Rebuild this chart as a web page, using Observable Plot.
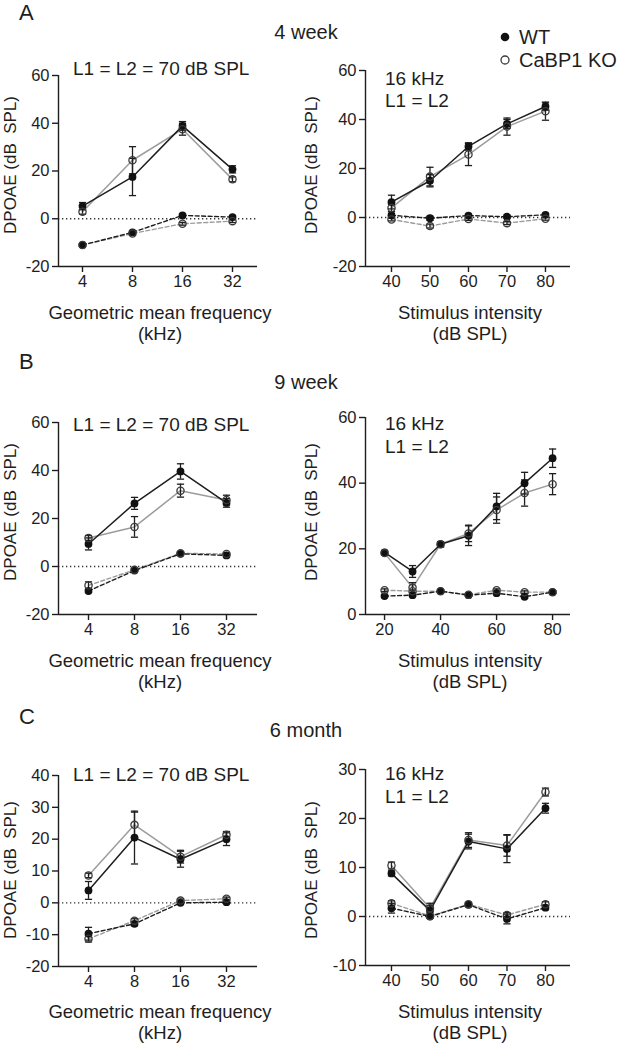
<!DOCTYPE html>
<html>
<head>
<meta charset="utf-8">
<script src="https://cdn.jsdelivr.net/npm/d3@7"></script>
<script src="https://cdn.jsdelivr.net/npm/@observablehq/plot@0.6"></script>
<style>
  html, body { margin: 0; padding: 0; background: #fff; }
  #root { position: relative; width: 624px; height: 1050px; overflow: hidden; font-family: "Liberation Sans", Arial, sans-serif; color: #1e1e1e; }
  .lbl { position: absolute; white-space: pre; line-height: 1; }
  svg { position: absolute; overflow: visible; }
</style>
</head>
<body>
<div id="root"></div>
<script>
// ---------- data ----------
const freqKHz = [4, 8, 16, 32];
const levels4wk = [40, 50, 60, 70, 80];
const levels9wk = [20, 30, 40, 50, 60, 70, 80];
const levels6mo = [40, 50, 60, 70, 80];

// 4 week – frequency
const w4fWT = [5.3, 17.5, 38.9, 20.7];
const w4fWTsem = [1.5, 7.8, 1.8, 1.5];
const w4fKO = [2.9, 24.5, 37.5, 16.5];
const w4fKOsem = [1.0, 5.7, 2.5, 1.0];
const w4fNfWT = [-11.0, -5.7, 1.4, 0.7];
const w4fNfWTsem = [0.6, 0.5, 0.6, 0.5];
const w4fNfKO = [-11.0, -6.2, -2.1, -1.0];
const w4fNfKOsem = [0.5, 0.5, 0.6, 0.6];

// 4 week – intensity
const w4iWT = [6.3, 15.0, 29.0, 38.2, 45.3];
const w4iWTsem = [2.8, 2.5, 1.5, 1.8, 1.5];
const w4iKO = [3.9, 16.7, 25.7, 37.1, 43.4];
const w4iKOsem = [1.5, 3.8, 4.5, 3.5, 3.7];
const w4iNfWT = [0.9, -0.3, 0.8, 0.3, 1.1];
const w4iNfWTsem = [0.8, 0.8, 0.6, 0.6, 0.6];
const w4iNfKO = [-0.8, -3.5, -0.6, -2.3, -0.5];
const w4iNfKOsem = [0.6, 0.8, 0.6, 0.6, 0.6];

// 9 week – frequency
const w9fWT = [9.4, 26.3, 39.6, 26.5];
const w9fWTsem = [2.5, 2.5, 3.2, 1.8];
const w9fKO = [11.9, 16.5, 31.6, 27.7];
const w9fKOsem = [1.0, 4.3, 2.7, 2.0];
const w9fNfWT = [-10.2, -1.7, 5.3, 4.6];
const w9fNfWTsem = [0.6, 0.5, 0.5, 0.6];
const w9fNfKO = [-7.9, -1.4, 5.5, 5.2];
const w9fNfKOsem = [1.5, 0.5, 0.5, 0.6];

// 9 week – intensity
const w9iWT = [18.9, 13.1, 21.4, 24.0, 32.9, 40.0, 47.6];
const w9iWTsem = [0.6, 1.8, 0.8, 3.0, 4.0, 3.3, 2.8];
const w9iKO = [18.7, 8.2, 21.4, 24.7, 31.8, 37.0, 39.7];
const w9iKOsem = [0.6, 1.5, 0.8, 2.5, 4.0, 4.0, 3.2];
const w9iNfWT = [5.6, 5.9, 7.1, 5.9, 6.5, 5.4, 6.8];
const w9iNfWTsem = [0.4, 0.4, 0.4, 0.4, 0.4, 0.4, 0.4];
const w9iNfKO = [7.4, 7.1, 7.1, 6.0, 7.4, 6.8, 6.8];
const w9iNfKOsem = [0.4, 0.4, 0.4, 0.4, 0.4, 0.4, 0.4];

// 6 month – frequency
const m6fWT = [3.9, 20.5, 13.7, 20.0];
const m6fWTsem = [2.8, 8.3, 2.5, 2.0];
const m6fKO = [8.6, 24.5, 14.5, 21.4];
const m6fKOsem = [0.7, 4.0, 2.0, 1.0];
const m6fNfWT = [-9.7, -6.6, 0.0, 0.2];
const m6fNfWTsem = [2.0, 0.6, 0.4, 0.4];
const m6fNfKO = [-11.3, -5.6, 0.7, 1.3];
const m6fNfKOsem = [1.0, 0.6, 0.5, 0.5];

// 6 month – intensity
const m6iWT = [8.8, 1.2, 15.3, 13.8, 22.1];
const m6iWTsem = [0.5, 1.0, 1.5, 2.8, 1.0];
const m6iKO = [10.4, 1.7, 15.6, 14.5, 25.4];
const m6iKOsem = [0.7, 1.0, 1.5, 2.2, 0.8];
const m6iNfWT = [1.7, 0.0, 2.4, -0.5, 1.8];
const m6iNfWTsem = [1.0, 0.3, 0.4, 1.0, 0.4];
const m6iNfKO = [2.7, 0.1, 2.5, 0.3, 2.5];
const m6iNfKOsem = [0.5, 0.3, 0.4, 0.5, 0.5];

// tick labels
const freqTicks = [4, 8, 16, 32];
const levelTicks10 = [40, 50, 60, 70, 80];
const levelTicks20 = [20, 40, 60, 80];
const yTicks60 = [-20, 0, 20, 40, 60];
const yTicks60pos = [0, 20, 40, 60];
const yTicks40 = [-20, -10, 0, 10, 20, 30, 40];
const yTicks30 = [-10, 0, 10, 20, 30];

// texts
const panelLetters = ["A", "B", "C"];
const ageTitles = ["4 week", "9 week", "6 month"];
const freqNote = "L1 = L2 = 70 dB SPL";
const levelNote = ["16 kHz", "L1 = L2"];
const yTitle = "DPOAE (dB  SPL)";
const xTitleFreq = ["Geometric mean frequency", "(kHz)"];
const xTitleLevel = ["Stimulus intensity", "(dB SPL)"];
const legendNames = ["WT", "CaBP1 KO"];

// ---------- drawing ----------
const root = document.getElementById("root");
const INK = "#1e1e1e";
const GRAY = "#9c9c9c";
const capSymbol = { draw(ctx, size) { const w = Math.sqrt(size / Math.PI); ctx.moveTo(-w, 0); ctx.lineTo(w, 0); } };

function series(xs, ys, es, group, kind) {
  return xs.map((x, i) => ({ x, y: ys[i], e: es[i], group, kind }));
}

function panel(cfg) {
  const wt = series(cfg.x, cfg.wt, cfg.wtE, "WT", "resp");
  const ko = series(cfg.x, cfg.ko, cfg.koE, "KO", "resp");
  const nwt = series(cfg.x, cfg.nfWt, cfg.nfWtE, "WT", "nf");
  const nko = series(cfg.x, cfg.nfKo, cfg.nfKoE, "KO", "nf");
  const all = [...ko, ...nko, ...wt, ...nwt];
  const marks = [];
  if (cfg.zero) marks.push(Plot.ruleY([0], { stroke: "#333", strokeWidth: 1.3, strokeDasharray: "1.3,2.7" }));
  marks.push(
    Plot.line(nko, { x: "x", y: "y", stroke: GRAY, strokeWidth: 1.4, strokeDasharray: "4,2.5" }),
    Plot.line(ko, { x: "x", y: "y", stroke: GRAY, strokeWidth: 1.5 }),
    Plot.line(nwt, { x: "x", y: "y", stroke: INK, strokeWidth: 1.4, strokeDasharray: "4,2.5" }),
    Plot.line(wt, { x: "x", y: "y", stroke: INK, strokeWidth: 1.5 }),
    Plot.ruleX(all, { x: "x", y1: d => d.y - d.e, y2: d => d.y + d.e, stroke: INK, strokeWidth: 1.3 }),
    Plot.dot(all, { x: "x", y: d => d.y - d.e, symbol: capSymbol, r: 3.6, stroke: INK, fill: "none", strokeWidth: 1.3 }),
    Plot.dot(all, { x: "x", y: d => d.y + d.e, symbol: capSymbol, r: 3.6, stroke: INK, fill: "none", strokeWidth: 1.3 }),
    Plot.dot([...wt, ...nwt], { x: "x", y: "y", r: 3.9, fill: "#111", stroke: "none" }),
    Plot.dot([...ko, ...nko], { x: "x", y: "y", r: 3.6, fill: "none", stroke: "#3a3a3a", strokeWidth: 1.3 }),
    Plot.ruleX([cfg.xDomain[0]], { stroke: INK, strokeWidth: 1.4 }),
    Plot.ruleY([cfg.yDomain[0]], { stroke: INK, strokeWidth: 1.4 }),
    Plot.axisX({ ticks: cfg.xTicks, tickFormat: d => String(d), tickSize: 6, tickPadding: 3, label: null, stroke: INK, strokeWidth: 1.4 }),
    Plot.axisY({ ticks: cfg.yTicks, tickFormat: d => String(d), tickSize: 6, tickPadding: 3, label: null, stroke: INK, strokeWidth: 1.4 })
  );
  const svgTop = cfg.yTop - 15;
  const height = cfg.yBot - svgTop + 35;
  const chart = Plot.plot({
    width: 312,
    height,
    marginLeft: cfg.xL - cfg.left,
    marginRight: cfg.left + 312 - cfg.xR,
    marginTop: cfg.yTop - svgTop,
    marginBottom: 35,
    x: cfg.log ? { type: "log", base: 2, domain: cfg.xDomain } : { type: "linear", domain: cfg.xDomain },
    y: { type: "linear", domain: cfg.yDomain },
    style: { fontSize: "16.5px", fontFamily: "'Liberation Sans', Arial, sans-serif", color: INK, background: "transparent", overflow: "visible" },
    marks
  });
  chart.style.left = cfg.left + "px";
  chart.style.top = svgTop + "px";
  chart.style.position = "absolute";
  root.appendChild(chart);
}

function text(str, x, y, fs, anchor = "start", extra = {}) {
  const d = document.createElement("div");
  d.className = "lbl";
  d.textContent = str;
  d.style.fontSize = fs + "px";
  d.style.left = x + "px";
  d.style.top = (y - 0.49 * fs) + "px";
  const tx = anchor === "middle" ? "-50%" : anchor === "end" ? "-100%" : "0";
  d.style.transform = `translateX(${tx})`;
  Object.assign(d.style, extra);
  root.appendChild(d);
  return d;
}
function vtext(str, cx, cy, fs) {
  const d = document.createElement("div");
  d.className = "lbl";
  d.textContent = str;
  d.style.fontSize = fs + "px";
  d.style.left = cx + "px";
  d.style.top = cy + "px";
  d.style.transform = "translate(-50%, -50%) rotate(-90deg)";
  root.appendChild(d);
}

// rows: A, B, C
const rows = [
  {
    letterY: 13, ageY: 32,
    freq: { x: freqKHz, wt: w4fWT, wtE: w4fWTsem, ko: w4fKO, koE: w4fKOsem, nfWt: w4fNfWT, nfWtE: w4fNfWTsem, nfKo: w4fNfKO, nfKoE: w4fNfKOsem,
            log: true, xDomain: [2.868, 45.25], xTicks: freqTicks, yDomain: [-20, 60], yTicks: yTicks60, zero: true,
            left: 0, xL: 58, xR: 257, yTop: 75, yBot: 266 },
    lev: { x: levels4wk, wt: w4iWT, wtE: w4iWTsem, ko: w4iKO, koE: w4iKOsem, nfWt: w4iNfWT, nfWtE: w4iNfWTsem, nfKo: w4iNfKO, nfKoE: w4iNfKOsem,
           log: false, xDomain: [33.25, 86.5], xTicks: levelTicks10, yDomain: [-20, 60], yTicks: yTicks60, zero: true,
           left: 312, xL: 365, xR: 570, yTop: 70, yBot: 266 },
    noteL: 68, noteR: [78, 100], titleY: [313, 334], yTitleY: [165, 165]
  },
  {
    letterY: 362, ageY: 382,
    freq: { x: freqKHz, wt: w9fWT, wtE: w9fWTsem, ko: w9fKO, koE: w9fKOsem, nfWt: w9fNfWT, nfWtE: w9fNfWTsem, nfKo: w9fNfKO, nfKoE: w9fNfKOsem,
            log: true, xDomain: [2.545, 51.06], xTicks: freqTicks, yDomain: [-20, 60], yTicks: yTicks60, zero: true,
            left: 0, xL: 58, xR: 257, yTop: 422, yBot: 614 },
    lev: { x: levels9wk, wt: w9iWT, wtE: w9iWTsem, ko: w9iKO, koE: w9iKOsem, nfWt: w9iNfWT, nfWtE: w9iNfWTsem, nfKo: w9iNfKO, nfKoE: w9iNfKOsem,
           log: false, xDomain: [13.2, 86.4], xTicks: levelTicks20, yDomain: [0, 60], yTicks: yTicks60pos, zero: false,
           left: 312, xL: 365, xR: 570, yTop: 417, yBot: 614 },
    noteL: 424, noteR: [423, 446], titleY: [661, 682], yTitleY: [512, 512]
  },
  {
    letterY: 717, ageY: 730,
    freq: { x: freqKHz, wt: m6fWT, wtE: m6fWTsem, ko: m6fKO, koE: m6fKOsem, nfWt: m6fNfWT, nfWtE: m6fNfWTsem, nfKo: m6fNfKO, nfKoE: m6fNfKOsem,
            log: true, xDomain: [2.545, 51.06], xTicks: freqTicks, yDomain: [-20, 40], yTicks: yTicks40, zero: true,
            left: 0, xL: 58, xR: 257, yTop: 775, yBot: 966 },
    lev: { x: levels6mo, wt: m6iWT, wtE: m6iWTsem, ko: m6iKO, koE: m6iKOsem, nfWt: m6iNfWT, nfWtE: m6iNfWTsem, nfKo: m6iNfKO, nfKoE: m6iNfKOsem,
           log: false, xDomain: [33.25, 86.5], xTicks: levelTicks10, yDomain: [-10, 30], yTicks: yTicks30, zero: true,
           left: 312, xL: 365, xR: 570, yTop: 769, yBot: 965 },
    noteL: 774, noteR: [773, 796], titleY: [1012, 1033], yTitleY: [870, 870]
  }
];

rows.forEach((r, i) => {
  panel(r.freq);
  panel(r.lev);
  text(panelLetters[i], 19, r.letterY, 22);
  text(ageTitles[i], 306, r.ageY, 20, "middle");
  text(freqNote, 73, r.noteL, 19);
  text(levelNote[0], 385, r.noteR[0], 19);
  text(levelNote[1], 385, r.noteR[1], 19);
  text(xTitleFreq[0], 160, r.titleY[0], 18.5, "middle");
  text(xTitleFreq[1], 160, r.titleY[1], 18.5, "middle");
  text(xTitleLevel[0], 470, r.titleY[0], 18.5, "middle");
  text(xTitleLevel[1], 470, r.titleY[1], 18.5, "middle");
  vtext(yTitle, 10, r.yTitleY[0], 17);
  vtext(yTitle, 311, r.yTitleY[1], 17);
});

// legend
const leg = document.createElementNS("http://www.w3.org/2000/svg", "svg");
leg.setAttribute("width", 20); leg.setAttribute("height", 40);
leg.style.left = "495px"; leg.style.top = "27px";
leg.innerHTML = `<circle cx="10" cy="10" r="4.3" fill="#111"/><circle cx="10" cy="33" r="4" fill="none" stroke="#3a3a3a" stroke-width="1.3"/>`;
root.appendChild(leg);
text(legendNames[0], 519, 37, 20);
text(legendNames[1], 519, 60, 20);
</script>
</body>
</html>
